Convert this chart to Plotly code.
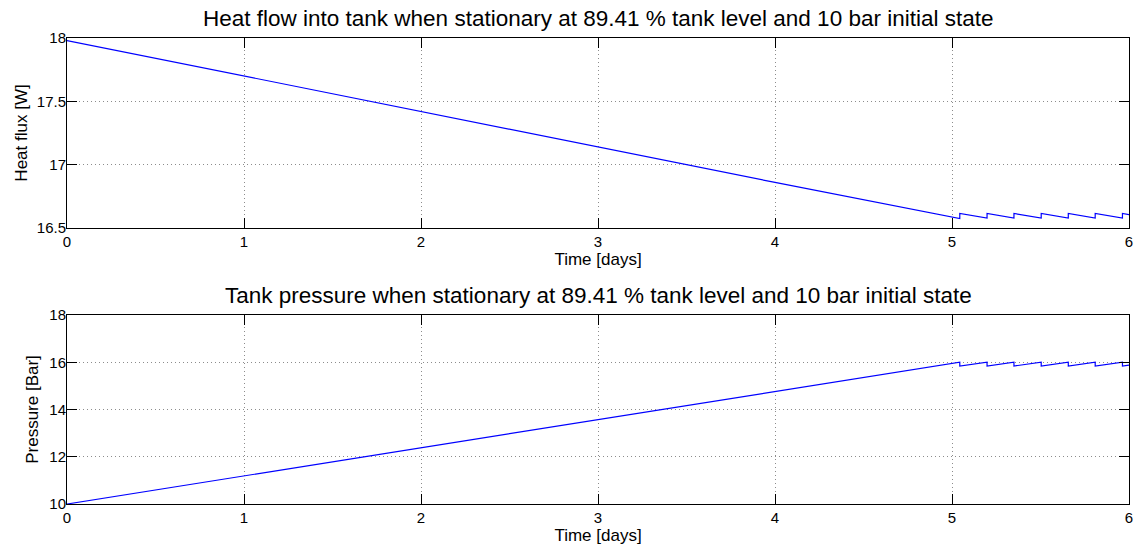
import plotly.graph_objects as go

# ---- data ----
time_days = [0, 1, 2, 3, 4, 5.044, 5.044, 5.198, 5.198, 5.350, 5.350, 5.504, 5.504,
             5.657, 5.657, 5.809, 5.809, 5.963, 5.963, 6.0]
heat_flux_w = [17.98, 17.70, 17.42, 17.14, 16.86, 16.575, 16.615, 16.578, 16.615,
               16.578, 16.615, 16.578, 16.615, 16.578, 16.615, 16.578, 16.615,
               16.578, 16.615, 16.606]
pressure_bar = [10.0, 11.19, 12.38, 13.57, 14.76, 16.0, 15.84, 16.0, 15.84,
                16.0, 15.84, 16.0, 15.84, 16.0, 15.84, 16.0, 15.84, 16.0, 15.84, 15.88]

x_ticks = [0, 1, 2, 3, 4, 5, 6]
heat_ticks = [16.5, 17, 17.5, 18]
heat_tick_labels = ["16.5", "17", "17.5", "18"]
pres_ticks = [10, 12, 14, 16, 18]

title_top = "Heat flow into tank when stationary at 89.41 % tank level and 10 bar initial state"
title_bot = "Tank pressure when stationary at 89.41 % tank level and 10 bar initial state"

FONT = "Liberation Sans, Arial, Helvetica, sans-serif"
W, H = 1141, 550
ML, MR, MT, MB = 67, 8, 38, 46
ph = H - MT - MB
top_dom = [(H - MB - 228) / ph, 1.0]
bot_dom = [0.0, (H - MB - 315) / ph]

fig = go.Figure()
fig.add_trace(go.Scatter(x=time_days, y=heat_flux_w, mode="lines",
                         line=dict(color="#0000ff", width=1.2), xaxis="x", yaxis="y",
                         showlegend=False))
fig.add_trace(go.Scatter(x=time_days, y=pressure_bar, mode="lines",
                         line=dict(color="#0000ff", width=1.2), xaxis="x2", yaxis="y2",
                         showlegend=False))

axis_common = dict(showline=True, linecolor="black", linewidth=1, mirror="allticks",
                   ticks="inside", ticklen=10, tickcolor="black", tickwidth=1,
                   showgrid=True, gridcolor="#8c8c8c", griddash="1px,3px", gridwidth=1,
                   zeroline=False,
                   tickfont=dict(family=FONT, size=15, color="black"))

fig.update_layout(
    width=W, height=H,
    margin=dict(l=ML, r=MR, t=MT, b=MB),
    paper_bgcolor="white", plot_bgcolor="white",
    font=dict(family=FONT, color="black"),
    xaxis=dict(domain=[0, 1], range=[0, 6], tickvals=x_ticks, anchor="y",
               ticklabelstandoff=0,
               title=dict(text="Time [days]", font=dict(family=FONT, size=17), standoff=0),
               **axis_common),
    yaxis=dict(domain=top_dom, range=[16.5, 18], tickvals=heat_ticks,
               ticktext=heat_tick_labels, anchor="x", ticklabelstandoff=-3,
               title=dict(text="Heat flux [W]", font=dict(family=FONT, size=17), standoff=4),
               **axis_common),
    xaxis2=dict(domain=[0, 1], range=[0, 6], tickvals=x_ticks, anchor="y2",
                ticklabelstandoff=0,
                title=dict(text="Time [days]", font=dict(family=FONT, size=17), standoff=0),
                **axis_common),
    yaxis2=dict(domain=bot_dom, range=[10, 18], tickvals=pres_ticks, anchor="x2",
                ticklabelstandoff=-3,
                title=dict(text="Pressure [Bar]", font=dict(family=FONT, size=17), standoff=6),
                **axis_common),
    annotations=[
        dict(text=title_top, xref="paper", yref="paper", x=0.5, y=top_dom[1],
             xanchor="center", yanchor="bottom", yshift=5, showarrow=False,
             font=dict(family=FONT, size=22.5, color="black")),
        dict(text=title_bot, xref="paper", yref="paper", x=0.5, y=bot_dom[1],
             xanchor="center", yanchor="bottom", yshift=5, showarrow=False,
             font=dict(family=FONT, size=22.5, color="black")),
    ],
)

fig.write_html("out.html")
